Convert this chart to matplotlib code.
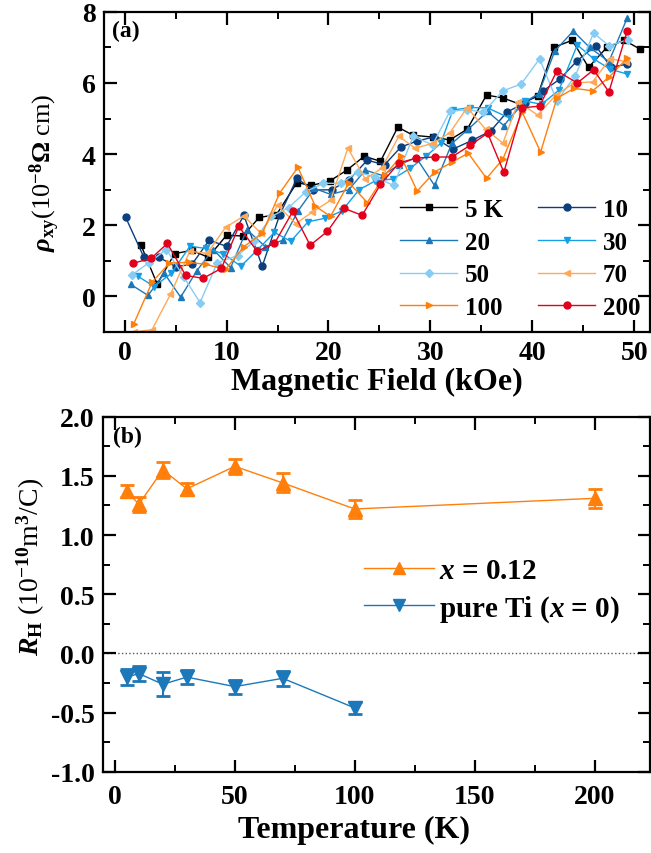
import numpy as np
import matplotlib
matplotlib.use('Agg')
import matplotlib.pyplot as plt
from matplotlib.ticker import MultipleLocator
from matplotlib.lines import Line2D

# ========================================
# FONT SETUP (Times-like bold text)
# ========================================
plt.rcParams['font.family'] = ['Liberation Serif', 'DejaVu Serif']
plt.rcParams['font.weight'] = 'bold'
plt.rcParams['mathtext.fontset'] = 'custom'
plt.rcParams['mathtext.rm'] = 'Liberation Serif:bold'
plt.rcParams['mathtext.bf'] = 'Liberation Serif:bold'
plt.rcParams['mathtext.it'] = 'Liberation Serif:italic:bold'

# ========================================
# PANEL (a) DATA: rho_xy vs field
# ========================================
field_5K = [1.6, 3.2, 4.9, 6.6, 8.2, 10.0, 11.6, 13.2, 14.9, 16.9, 18.3, 20.1, 21.8, 23.5, 25.1,
            26.8, 28.3, 30.2, 31.9, 33.6, 35.5, 37.1, 38.8, 40.5, 42.1, 43.9, 45.5, 47.3, 49.0, 50.5]
rho_5K = [1.45, 0.35, 1.2, 1.3, 1.1, 1.72, 1.7, 2.22, 2.3, 3.2, 3.12, 3.24, 3.55, 3.94, 3.8,
          4.76, 4.53, 4.48, 4.4, 4.7, 5.66, 5.58, 5.4, 5.63, 7.0, 7.2, 6.44, 7.0, 7.2, 6.96]

field_10K = [0.1, 1.9, 3.4, 5.0, 6.6, 8.3, 10.0, 11.7, 13.5, 15.2, 16.9, 18.5, 20.3, 22.0, 23.8,
             25.5, 27.1, 28.7, 30.3, 32.2, 34.1, 35.9, 37.5, 39.3, 41.0, 42.7, 44.4, 46.2, 47.7, 49.3]
rho_10K = [2.23, 1.1, 1.1, 0.84, 0.9, 1.58, 1.41, 2.28, 0.85, 2.28, 3.32, 2.99, 3.0, 3.27, 3.83,
           3.7, 4.2, 4.37, 4.48, 4.14, 4.39, 4.65, 5.18, 5.45, 5.77, 6.11, 6.63, 7.05, 6.44, 6.53]

field_20K = [0.6, 2.3, 3.9, 5.5, 7.1, 8.7, 10.4, 12.0, 13.8, 15.5, 17.0, 18.6, 20.2, 22.0, 23.6,
             25.3, 26.9, 28.6, 30.4, 32.1, 33.7, 35.6, 37.2, 38.9, 40.6, 42.2, 44.0, 45.6, 47.5, 49.3]
rho_20K = [0.34, 0.03, 0.65, -0.02, 0.73, 1.32, 0.81, 1.88, 1.4, 1.58, 2.4, 3.04, 2.87, 3.0, 3.55,
           3.4, 3.7, 3.9, 3.12, 4.3, 4.7, 5.2, 4.8, 5.4, 5.7, 6.9, 7.46, 7.0, 6.6, 7.83]

field_30K = [1.3, 2.9, 4.6, 6.4, 8.0, 9.7, 11.4, 13.0, 14.7, 16.3, 18.0, 19.7, 21.3, 23.0, 24.6,
             26.3, 28.0, 29.6, 31.0, 32.2, 33.9, 35.6, 37.8, 39.3, 40.9, 42.6, 44.4, 46.0, 47.6, 49.3]
rho_30K = [0.57, 0.28, 0.65, 1.41, 1.35, 1.2, 0.85, 1.3, 1.8, 1.55, 2.1, 2.2, 2.4, 3.0, 3.25,
           3.3, 3.6, 3.95, 4.3, 5.24, 5.31, 5.3, 5.01, 5.49, 5.4, 5.8, 7.07, 6.68, 6.39, 6.25]

field_50K = [0.7, 2.4, 4.1, 5.8, 7.4, 9.1, 11.1, 12.7, 14.4, 16.1, 17.8, 19.5, 21.2, 22.9, 24.6,
             26.4, 28.3, 30.2, 31.9, 33.6, 35.2, 37.1, 38.9, 40.7, 42.4, 44.2, 46.0, 47.5, 49.4]
rho_50K = [0.6, 0.95, 1.32, 0.55, -0.17, 0.95, 1.15, 1.55, 2.25, 2.5, 2.95, 3.18, 3.18, 3.5, 3.35,
           3.12, 4.5, 4.26, 5.2, 5.25, 5.18, 5.78, 5.97, 6.68, 5.5, 6.2, 7.4, 7.05, 7.22]

field_70K = [0.9, 2.7, 4.5, 6.4, 8.1, 9.9, 11.7, 13.4, 15.0, 16.8, 18.4, 20.2, 21.9, 23.6, 25.2,
             26.9, 28.5, 30.2, 31.9, 33.6, 35.4, 37.1, 38.6, 40.5, 42.3, 44.1, 45.9, 47.6, 49.2]
rho_70K = [-1.0, -0.93, 0.06, 1.27, 1.21, 1.94, 2.26, 1.77, 2.56, 2.05, 2.37, 2.7, 4.17, 3.3, 3.6,
           4.5, 4.17, 4.3, 4.6, 5.31, 4.7, 4.31, 5.47, 5.1, 5.66, 6.0, 6.03, 6.68, 6.6]

field_100K = [0.9, 2.7, 4.4, 6.3, 8.0, 9.9, 11.7, 13.5, 15.2, 17.0, 18.7, 20.2, 22.0, 23.8, 25.5,
              27.1, 28.7, 30.4, 32.1, 33.7, 35.5, 37.1, 39.0, 40.8, 42.4, 44.1, 45.9, 47.5, 49.3]
rho_100K = [-0.77, 0.4, 0.94, 0.96, 0.9, 0.76, 1.4, 1.77, 2.9, 3.63, 2.54, 2.25, 3.2, 2.64, 3.4,
            3.94, 2.96, 3.5, 3.77, 4.03, 3.32, 3.86, 5.18, 4.06, 5.57, 5.85, 5.78, 6.16, 6.7]

field_200K = [0.8, 2.6, 4.2, 6.0, 7.7, 9.5, 11.2, 13.0, 14.7, 16.5, 18.2, 19.9, 21.5, 23.3, 25.1,
              26.9, 28.6, 30.4, 32.1, 33.9, 35.6, 37.2, 39.0, 40.7, 42.4, 44.4, 46.0, 47.5, 49.3]
rho_200K = [0.93, 1.07, 1.49, 0.59, 0.51, 0.79, 1.97, 1.27, 1.49, 2.39, 1.44, 1.83, 2.48, 2.28, 3.15,
            3.75, 3.89, 3.92, 3.92, 4.25, 4.59, 3.49, 5.3, 5.35, 6.34, 6.0, 6.37, 5.75, 7.47]

# ========================================
# PANEL (b) DATA: Hall coefficient vs T
# ========================================
temp_x012 = [5, 10, 20, 30, 50, 70, 100, 200]
rh_x012 = [1.37, 1.26, 1.55, 1.39, 1.58, 1.44, 1.22, 1.31]
err_x012 = [0.05, 0.065, 0.065, 0.05, 0.065, 0.08, 0.08, 0.08]

temp_ti = [5, 10, 20, 30, 50, 70, 100]
rh_ti = [-0.2, -0.17, -0.26, -0.2, -0.28, -0.21, -0.46]
err_ti = [0.065, 0.065, 0.1, 0.06, 0.06, 0.065, 0.05]

ORANGE = '#ff7f0a'
BLUE = '#1c78b8'

series = [
    ('5 K', field_5K, rho_5K, 's', '#000000'),
    ('10', field_10K, rho_10K, 'o', '#0b3f7e'),
    ('20', field_20K, rho_20K, '^', BLUE),
    ('30', field_30K, rho_30K, 'v', '#169fe6'),
    ('50', field_50K, rho_50K, 'D', '#86cdf5'),
    ('70', field_70K, rho_70K, '<', '#ffa857'),
    ('100', field_100K, rho_100K, '>', ORANGE),
    ('200', field_200K, rho_200K, 'o', '#e3001b'),
]

TICK_SIZE = 20
LABEL_SIZE = 23

fig = plt.figure(figsize=(6.51, 8.54), dpi=100)
ax_a = fig.add_axes([0.160, 0.610, 0.838, 0.375])
ax_b = fig.add_axes([0.158, 0.095, 0.840, 0.416])


def style_axes(ax):
    for sp in ax.spines.values():
        sp.set_linewidth(1.6)
    ax.tick_params(which='major', direction='in', length=9, width=1.6,
                   labelsize=TICK_SIZE, top=True, right=True, pad=6)
    ax.tick_params(which='minor', direction='in', length=5, width=1.4,
                   top=True, right=True)
    for lab in ax.get_xticklabels() + ax.get_yticklabels():
        lab.set_fontweight('bold')


# ---- panel (a) ----
handles = {}
for label, fx, fy, mk, col in series:
    ms = 4 if mk == 'D' else 5
    h, = ax_a.plot(fx, fy, marker=mk, color=col, lw=1.0, ms=ms, label=label)
    handles[label] = h

ax_a.set_xlim(-2, 51.5)
ax_a.set_ylim(-1, 8)
ax_a.xaxis.set_major_locator(MultipleLocator(10))
ax_a.xaxis.set_minor_locator(MultipleLocator(5))
ax_a.yaxis.set_major_locator(MultipleLocator(2))
ax_a.yaxis.set_minor_locator(MultipleLocator(1))
style_axes(ax_a)
ax_a.set_xlabel('Magnetic Field (kOe)', fontsize=LABEL_SIZE, fontweight='bold', labelpad=1)
ax_a.set_ylabel(r'$\rho_{\rm xy}$(10$^{-8}$$\Omega$ cm)', fontsize=19)
ax_a.yaxis.set_label_coords(-0.078, 0.5)
ax_a.text(0.015, 0.975, '(a)', transform=ax_a.transAxes, fontsize=17,
          fontweight='bold', va='top', ha='left')

# legend filled row by row
order = ['5 K', '20', '50', '100', '10', '30', '70', '200']
ax_a.legend([handles[k] for k in order], order, ncol=2, frameon=False,
            loc='lower right', bbox_to_anchor=(1.015, -0.014),
            handlelength=2.3, handletextpad=0.3, columnspacing=1.4,
            labelspacing=0.39, borderaxespad=0.3,
            prop={'family': 'Liberation Serif', 'weight': 'bold', 'size': 18})

# ---- panel (b) ----
ax_b.axhline(0, color='#555555', lw=1.0, ls=':', zorder=1)
ax_b.errorbar(temp_x012, rh_x012, yerr=err_x012, marker='^', ms=10, color=ORANGE,
              lw=1.0, capsize=5, capthick=2, elinewidth=1.5)
ax_b.errorbar(temp_ti, rh_ti, yerr=err_ti, marker='v', ms=10, color=BLUE,
              lw=1.0, capsize=5, capthick=2, elinewidth=1.5)

ax_b.set_xlim(-5, 223)
ax_b.set_ylim(-1, 2)
ax_b.xaxis.set_major_locator(MultipleLocator(50))
ax_b.xaxis.set_minor_locator(MultipleLocator(25))
ax_b.yaxis.set_major_locator(MultipleLocator(0.5))
ax_b.yaxis.set_minor_locator(MultipleLocator(0.25))
ax_b.yaxis.set_major_formatter(plt.FormatStrFormatter('%.1f'))
style_axes(ax_b)
ax_b.tick_params(axis='x', which='major', pad=9)
ax_b.set_xlabel('Temperature (K)', fontsize=LABEL_SIZE, fontweight='bold')
ax_b.xaxis.set_label_coords(0.46, -0.12)
ax_b.set_ylabel(r'$R_{\rm H}$ (10$^{-10}$m$^{3}$/C)', fontsize=20)
ax_b.yaxis.set_label_coords(-0.103, 0.58)
ax_b.text(0.018, 0.975, '(b)', transform=ax_b.transAxes, fontsize=17,
          fontweight='bold', va='top', ha='left')

# legend handles without error bars
leg_b = [Line2D([], [], color=ORANGE, lw=1.0, marker='^', ms=8),
         Line2D([], [], color=BLUE, lw=1.0, marker='v', ms=8)]
ax_b.legend(leg_b, [r'$x$ = 0.12', r'pure Ti ($x$ = 0)'], frameon=False,
            loc='center left', bbox_to_anchor=(0.43, 0.51),
            handlelength=2.4, handletextpad=0.15, labelspacing=0.3,
            prop={'family': 'Liberation Serif', 'weight': 'bold', 'size': 21})

fig.savefig('out.png', dpi=100)
